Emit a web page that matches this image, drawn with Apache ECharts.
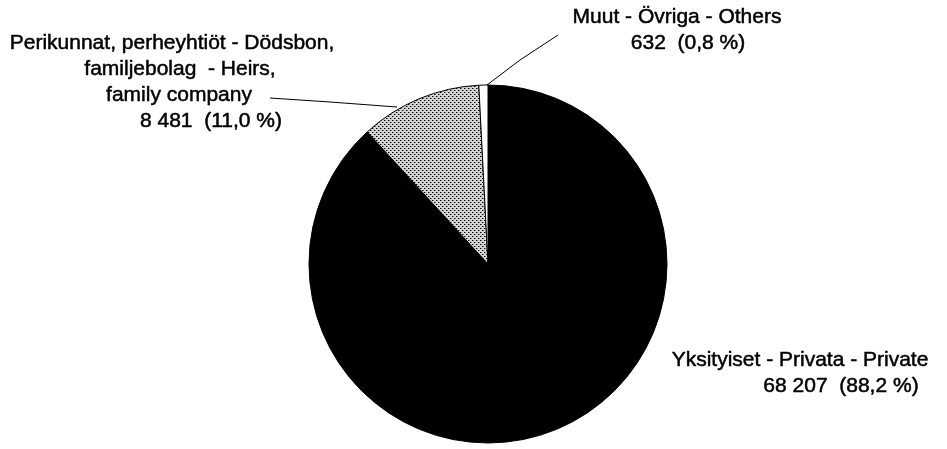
<!DOCTYPE html>
<html>
<head>
<meta charset="utf-8">
<script src="https://cdn.jsdelivr.net/npm/echarts@6/dist/echarts.min.js"></script>
<style>
    html, body { margin: 0; padding: 0; background: #fff; }
    #pie { width: 947px; height: 449px; }
</style>
</head>
<body>
<div id="pie"></div>
<script>
// data
let names = ['Yksityiset - Privata - Private', 'Perikunnat, perheyhtiöt - Dödsbon,\nfamiljebolag  - Heirs,\nfamily company', 'Muut - Övriga - Others']
let values = [68207, 8481, 632]
let shares = ['88,2', '11,0', '0,8']

let _$ = (dom) => {
    return document.querySelector(dom)
}

// pilkkukuvio perikunnille
let dotPattern = () => {
    let c = document.createElement('canvas')
    c.width = 4
    c.height = 4
    let ctx = c.getContext('2d')
    ctx.fillStyle = '#d4d4d4'
    ctx.fillRect(0, 0, 4, 4)
    ctx.fillStyle = '#000'
    ctx.fillRect(0, 0, 1, 1)
    ctx.fillRect(2, 2, 1, 1)
    ctx.fillStyle = '#777'
    ctx.fillRect(1, 0, 1, 1)
    ctx.fillRect(3, 2, 1, 1)
    return c
}

let fmt = (v) => String(v).replace(/\B(?=(\d{3})+(?!\d))/g, ' ')

let font = {
    fontFamily: 'Liberation Sans, Arial, sans-serif',
    fontSize: 21,
    color: '#000',
    textBorderColor: '#000',
    textBorderWidth: 0.5
}

// label positions (center of text block)
let labelPos = [
    { x: 800, y: 373 },
    { x: 172, y: 82 },
    { x: 677, y: 30 }
]
let linePoints = [
    null,
    [[397, 107], [330, 102], [270, 98]],
    [[487, 85], [520, 60], [558, 35]]
]

let texts = [
    names[0] + '\n{v0|' + fmt(values[0]) + '  (' + shares[0] + ' %)}',
    'Perikunnat, perheyhtiöt - Dödsbon,\n{l2|familjebolag  - Heirs,}\n{l3|family company}\n{v1|' + fmt(values[1]) + '  (' + shares[1] + ' %)}',
    names[2] + '\n{v2|' + fmt(values[2]) + '  (' + shares[2] + ' %)}'
]

let colors = ['#000', { image: dotPattern(), repeat: 'repeat' }, '#fff']

let option = {
    animation: false,
    backgroundColor: '#fff',
    series: [{
        type: 'pie',
        center: [488, 264],
        radius: 179,
        startAngle: 90,
        clockwise: true,
        avoidLabelOverlap: false,
        silent: true,
        itemStyle: {
            borderColor: '#000',
            borderWidth: 1
        },
        label: Object.assign({
            show: true,
            position: 'outside',
            align: 'center',
            lineHeight: 26,
            rich: {
                v0: Object.assign({ padding: [0, 0, 0, 82], lineHeight: 26 }, font),
                l2: Object.assign({ padding: [0, 0, 0, 16], lineHeight: 26 }, font),
                l3: Object.assign({ padding: [0, 0, 0, 14], lineHeight: 26 }, font),
                v1: Object.assign({ padding: [0, 0, 0, 78], lineHeight: 26 }, font),
                v2: Object.assign({ padding: [0, 0, 0, 22], lineHeight: 26 }, font)
            }
        }, font),
        labelLine: {
            show: true,
            lineStyle: { color: '#000', width: 1 }
        },
        labelLayout: (params) => {
            let i = params.dataIndex
            let res = {
                x: labelPos[i].x,
                y: labelPos[i].y,
                align: 'center',
                verticalAlign: 'middle'
            }
            if (linePoints[i]) res.labelLinePoints = linePoints[i]
            return res
        },
        data: values.map((v, i) => ({
            name: names[i],
            value: v,
            itemStyle: { color: colors[i] },
            label: { formatter: texts[i] },
            labelLine: { show: i !== 0 }
        }))
    }]
}

let mychart = echarts.init(_$('#pie'))
mychart.setOption(option)
</script>
</body>
</html>
